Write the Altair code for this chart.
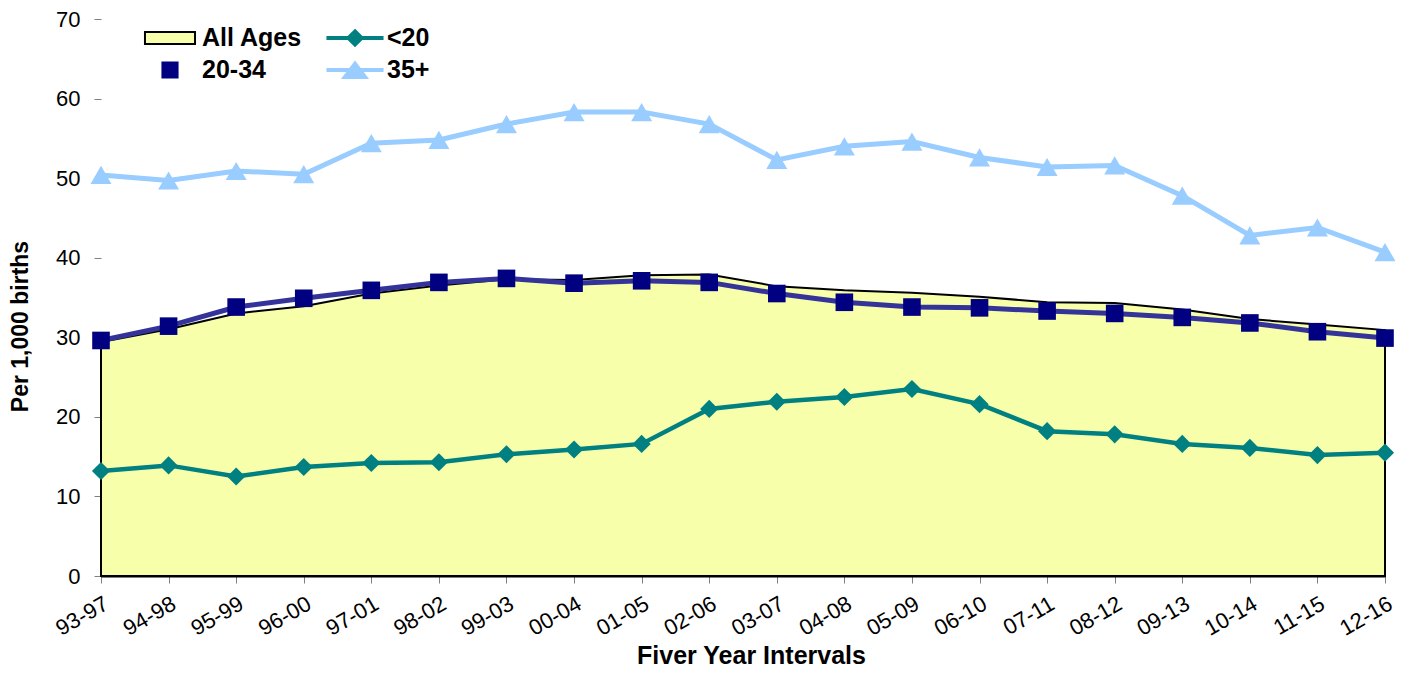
import altair as alt
import pandas as pd

intervals = ["93-97", "94-98", "95-99", "96-00", "97-01", "98-02", "99-03", "00-04",
             "01-05", "02-06", "03-07", "04-08", "05-09", "06-10", "07-11", "08-12",
             "09-13", "10-14", "11-15", "12-16"]
all_ages = [29.4, 31.0, 33.0, 33.9, 35.5, 36.5, 37.3, 37.2, 37.8, 37.9,
            36.4, 35.9, 35.6, 35.1, 34.4, 34.3, 33.5, 32.3, 31.6, 30.9]
under20 = [13.2, 13.9, 12.5, 13.7, 14.2, 14.3, 15.3, 15.9, 16.6, 21.0,
           21.9, 22.5, 23.5, 21.6, 18.2, 17.8, 16.6, 16.1, 15.2, 15.5]
age20_34 = [29.6, 31.4, 33.8, 34.9, 35.9, 36.9, 37.4, 36.8, 37.1, 36.9,
            35.5, 34.4, 33.8, 33.7, 33.3, 33.0, 32.5, 31.8, 30.7, 29.9]
age35plus = [50.4, 49.7, 50.9, 50.5, 54.4, 54.8, 56.8, 58.3, 58.3, 56.8,
             52.3, 54.0, 54.6, 52.6, 51.4, 51.6, 47.8, 42.8, 43.8, 40.7]
y_ticks = [0, 10, 20, 30, 40, 50, 60, 70]

legend_order = ["All Ages", "<20", "20-34", "35+"]
legend_fill = ["#F8FFAA", "#008080", "#000080", "#99CCFF"]
legend_stroke = ["#000000", "#008080", "#000080", "#99CCFF"]
legend_shapes = [
    "M-1.39,-0.33H1.39V0.33H-1.39Z",
    "M-1.53,-0.06H1.53V0.06H-1.53Z M0,-0.44L0.44,0L0,0.44L-0.44,0Z",
    "M-0.42,-0.42H0.42V0.42H-0.42Z",
    "M-1.53,-0.06H1.53V0.06H-1.53Z M0,-0.44L0.67,0.44L-0.67,0.44Z",
]

FONT = "Liberation Sans, Arial, sans-serif"

wide = pd.DataFrame({
    "interval": intervals,
    "all": all_ages,
    "u20": under20,
    "a2034": age20_34,
    "a35": age35plus,
})

x_axis = alt.Axis(
    labelAngle=-30, labelAlign="right", labelBaseline="top", labelFontSize=22,
    labelPadding=10, labelColor="black", labelFont=FONT,
    tickSize=7, tickColor="#808080", tickWidth=1,
    domainColor="black", domainWidth=2, grid=False,
    titleFontSize=25, titleFontWeight="bold", titleColor="black", titleFont=FONT,
    titlePadding=4, titleX=650,
)
y_axis = alt.Axis(
    values=y_ticks, grid=False, domain=False,
    tickSize=7, tickColor="#808080", tickWidth=1,
    labelFontSize=22, labelPadding=14, labelColor="black", labelFont=FONT,
    titleFontSize=23, titleFontWeight="bold", titleColor="black", titleFont=FONT,
    titlePadding=23, titleY=307,
)
x_enc = alt.X("interval:O", sort=intervals,
              scale=alt.Scale(type="point", padding=0, domain=intervals),
              axis=x_axis, title="Fiver Year Intervals")
y_scale = alt.Scale(domain=[0, 70], nice=False)


def yenc(field):
    return alt.Y(f"{field}:Q", scale=y_scale, axis=y_axis, title="Per 1,000 births")


base = alt.Chart(wide)

area = base.mark_area(color="#F8FFAA", stroke="black", strokeWidth=2).encode(
    x=x_enc, y=yenc("all"))

line_u20 = base.mark_line(color="#008080", strokeWidth=4.5).encode(x=x_enc, y=yenc("u20"))
pts_u20 = base.mark_point(shape="diamond", filled=True, size=330, color="#008080",
                          opacity=1).encode(x=x_enc, y=yenc("u20"))

line_2034 = base.mark_line(color="#333399", strokeWidth=5).encode(x=x_enc, y=yenc("a2034"))
pts_2034 = base.mark_point(shape="square", filled=True, size=310, color="#000080",
                           opacity=1).encode(x=x_enc, y=yenc("a2034"))

line_35 = base.mark_line(color="#99CCFF", strokeWidth=5).encode(x=x_enc, y=yenc("a35"))
pts_35 = base.mark_point(shape="triangle-up", filled=True, size=441, color="#99CCFF",
                         opacity=1).encode(x=x_enc, y=yenc("a35"))

legend_df = pd.DataFrame({"series": legend_order, "v": [0, 0, 0, 0]})
legend_def = alt.Legend(
    orient="none", legendX=50, legendY=0, columns=2, direction="horizontal",
    title=None, padding=0, rowPadding=0, columnPadding=20,
    symbolSize=1296, symbolStrokeWidth=2, symbolOpacity=1,
    labelFontSize=25, labelFontWeight="bold", labelColor="black", labelFont=FONT,
    labelOffset=13, labelLimit=300,
)
legend_layer = alt.Chart(legend_df).transform_filter("datum.v > 1").mark_point(
    filled=True, opacity=1).encode(
    fill=alt.Fill("series:N", scale=alt.Scale(domain=legend_order, range=legend_fill),
                  legend=legend_def),
    stroke=alt.Stroke("series:N", scale=alt.Scale(domain=legend_order, range=legend_stroke),
                      legend=legend_def),
    shape=alt.Shape("series:N", scale=alt.Scale(domain=legend_order, range=legend_shapes),
                    legend=legend_def),
)

chart = alt.layer(
    area, line_u20, line_2034, line_35, pts_u20, pts_2034, pts_35, legend_layer
).properties(
    width=1284, height=557,
    background="white",
    autosize=alt.AutoSizeParams(type="none"),
    padding={"left": 93, "top": 11, "right": 10, "bottom": 92},
).configure_view(stroke="transparent")

chart.save("out.html", embed_options={"renderer": "svg", "actions": False})
